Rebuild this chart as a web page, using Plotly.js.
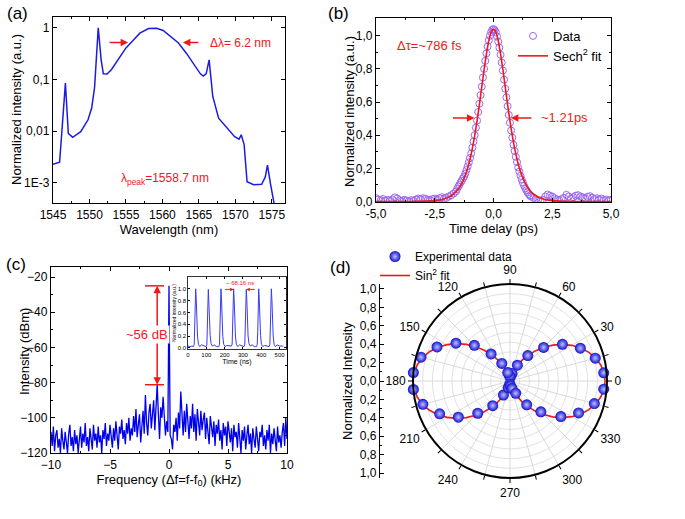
<!DOCTYPE html>
<html><head><meta charset="utf-8">
<script src="https://cdn.plot.ly/plotly-3.0.1.min.js"></script>
<style>html,body{margin:0;padding:0;background:#fff}</style>
</head><body><div id="chart" style="width:685px;height:519px"></div>
<script>
// ---------- (a) spectrum ----------
const waveA = [1545.0,1545.9,1546.1,1546.7,1547.1,1547.7,1548.8,1549.8,1550.3,1550.7,1551.2,1551.6,1551.9,1552.4,1553.0,1553.9,1555.0,1556.0,1556.9,1558.1,1559.2,1560.1,1561.0,1562.2,1563.3,1564.5,1565.2,1565.6,1566.0,1566.4,1566.9,1567.7,1568.8,1569.9,1570.5,1570.8,1571.2,1571.6,1572.5,1573.6,1574.1,1574.4,1574.8,1575.3];
const intensA = [0.0023,0.0025,0.0059,0.085,0.0091,0.0076,0.0098,0.0166,0.028,0.07,1.0,0.24,0.129,0.128,0.155,0.24,0.41,0.575,0.79,0.97,0.98,0.89,0.71,0.51,0.32,0.178,0.129,0.117,0.13,0.24,0.047,0.0178,0.0115,0.0078,0.0070,0.0085,0.0055,0.00105,0.00092,0.00094,0.0013,0.0022,0.00098,0.0004];
const tickValsA = [0.001,0.01,0.1,1];
const tickTextA = ['1E-3','0,01','0,1','1'];

// ---------- (b) autocorrelation ----------
const timeB = [-5.0,-4.9,-4.8,-4.7,-4.6,-4.5,-4.4,-4.3,-4.2,-4.1,-4.0,-3.9,-3.8,-3.7,-3.6,-3.5,-3.4,-3.3,-3.2,-3.1,-3.0,-2.9,-2.8,-2.7,-2.6,-2.5,-2.4,-2.3,-2.2,-2.1,-2.0,-1.9,-1.8,-1.7,
 -1.60,-1.55,-1.50,-1.45,-1.40,-1.35,-1.30,-1.25,-1.20,-1.15,-1.10,-1.05,-1.00,-0.95,-0.90,-0.85,-0.80,-0.75,-0.70,-0.65,-0.60,-0.55,-0.50,-0.45,-0.40,-0.35,-0.30,-0.25,-0.20,-0.15,-0.10,-0.05,0.00,
 0.05,0.10,0.15,0.20,0.25,0.30,0.35,0.40,0.45,0.50,0.55,0.60,0.65,0.70,0.75,0.80,0.85,0.90,0.95,1.00,1.05,1.10,1.15,1.20,1.25,1.30,1.35,1.40,1.45,1.50,1.55,1.60,
 1.7,1.8,1.9,2.0,2.1,2.2,2.3,2.4,2.5,2.6,2.7,2.8,2.9,3.0,3.1,3.2,3.3,3.4,3.5,3.6,3.7,3.8,3.9,4.0,4.1,4.2,4.3,4.4,4.5,4.6,4.7,4.8,4.9,5.0];
const dataB = [0.020,0.012,0.008,0.015,0.005,0.010,0.004,0.012,0.025,0.018,0.008,0.003,0.010,0.006,0.002,0.008,0.004,0.012,0.018,0.014,0.020,0.016,0.010,0.008,0.014,0.018,0.012,0.020,0.026,0.018,0.022,0.030,0.038,0.048,
 0.060,0.075,0.090,0.100,0.115,0.125,0.140,0.150,0.168,0.190,0.212,0.236,0.262,0.290,0.325,0.362,0.400,0.445,0.488,0.540,0.590,0.642,0.693,0.748,0.800,0.848,0.893,0.935,0.972,1.000,1.022,1.036,1.040,
 1.034,1.020,0.995,0.965,0.928,0.885,0.838,0.790,0.735,0.680,0.628,0.575,0.522,0.475,0.428,0.385,0.342,0.305,0.270,0.238,0.205,0.180,0.155,0.133,0.113,0.095,0.080,0.068,0.055,0.045,0.036,0.030,
 0.022,0.015,0.008,0.004,0.010,0.030,0.042,0.035,0.030,0.020,0.012,0.008,0.015,0.022,0.040,0.030,0.018,0.026,0.035,0.038,0.030,0.025,0.020,0.028,0.032,0.022,0.015,0.020,0.012,0.018,0.008,0.012,0.006,0.010];
const fitTB = [-5,-4,-3.5,-3,-2.5,-2.2,-2,-1.8,-1.6,-1.5,-1.4,-1.3,-1.2,-1.1,-1,-0.9,-0.8,-0.7,-0.6,-0.5,-0.4,-0.3,-0.2,-0.1,0,0.1,0.2,0.3,0.4,0.5,0.6,0.7,0.8,0.9,1,1.1,1.2,1.3,1.4,1.5,1.6,1.8,2,2.2,2.5,3,3.5,4,5];
const fitVB = [0,0.0002,0.0004,0.0015,0.0055,0.0122,0.0205,0.0346,0.0582,0.0751,0.0972,0.1248,0.1595,0.2025,0.256,0.321,0.398,0.486,0.585,0.690,0.795,0.891,0.970,1.022,1.040,1.022,0.970,0.891,0.795,0.690,0.585,0.486,0.398,0.321,0.256,0.2025,0.1595,0.1248,0.0972,0.0751,0.0582,0.0346,0.0205,0.0122,0.0055,0.0015,0.0004,0.0002,0];
const tickValsBx = [-5,-2.5,0,2.5,5];
const tickTextBx = ['-5,0','-2,5','0,0','2,5','5,0'];
const tickValsBy = [0,0.2,0.4,0.6,0.8,1.0];
const tickTextBy = ['0,0','0,2','0,4','0,6','0,8','1,0'];

// ---------- (c) RF spectrum ----------
const freqC = [-10.0,-9.9,-9.8,-9.7,-9.6,-9.5,-9.4,-9.3,-9.2,-9.1,-9.0,-8.9,-8.8,-8.7,-8.6,-8.5,-8.4,-8.3,-8.2,-8.1,-8.0,-7.9,-7.8,-7.7,-7.6,-7.5,-7.4,-7.3,-7.2,-7.1,-7.0,-6.9,-6.8,-6.7,-6.6,-6.5,-6.4,-6.3,-6.2,-6.1,-6.0,-5.9,-5.8,-5.7,-5.6,-5.5,-5.4,-5.3,-5.2,-5.1,-5.0,-4.9,-4.8,-4.7,-4.6,-4.5,-4.4,-4.3,-4.2,-4.1,-4.0,-3.9,-3.8,-3.7,-3.6,-3.5,-3.4,-3.3,-3.2,-3.1,-3.0,-2.9,-2.8,-2.7,-2.6,-2.5,-2.4,-2.3,-2.2,-2.1,-2.0,-1.9,-1.8,-1.7,-1.6,-1.5,-1.4,-1.3,-1.2,-1.1,-1.0,-0.9,-0.8,-0.7,-0.6,-0.5,-0.4,-0.3,-0.2,
 -0.1,-0.05,0,0.05,0.1,
 0.2,0.3,0.4,0.5,0.6,0.7,0.8,0.9,1.0,1.1,1.2,1.3,1.4,1.5,1.6,1.7,1.8,1.9,2.0,2.1,2.2,2.3,2.4,2.5,2.6,2.7,2.8,2.9,3.0,3.1,3.2,3.3,3.4,3.5,3.6,3.7,3.8,3.9,4.0,4.1,4.2,4.3,4.4,4.5,4.6,4.7,4.8,4.9,5.0,5.1,5.2,5.3,5.4,5.5,5.6,5.7,5.8,5.9,6.0,6.1,6.2,6.3,6.4,6.5,6.6,6.7,6.8,6.9,7.0,7.1,7.2,7.3,7.4,7.5,7.6,7.7,7.8,7.9,8.0,8.1,8.2,8.3,8.4,8.5,8.6,8.7,8.8,8.9,9.0,9.1,9.2,9.3,9.4,9.5,9.6,9.7,9.8,9.9,10.0];
const powC = [-108,-116,-105,-119,-110,-107,-117,-112,-120,-106,
 -113,-118,-108,-114,-120,-109,-104,-116,-111,-119,
 -107,-115,-110,-120,-113,-105,-117,-109,-114,-103,
 -116,-111,-119,-106,-112,-118,-104,-113,-109,-117,
 -105,-114,-110,-120,-107,-112,-103,-116,-109,-113,
 -104,-111,-117,-106,-113,-102,-110,-118,-105,-109,
 -101,-112,-107,-115,-103,-109,-100,-113,-106,-110,
 -99,-108,-95,-111,-104,-98,-114,-102,-96,-109,
 -87,-103,-110,-97,-92,-106,-99,-90,-107,-95,
 -81,-98,-112,-94,-100,-88,-104,-110,-102,
 -108,-70,-25,-70,-110,
 -112,-118,-104,-108,-100,-113,-97,-106,-85,-103,
 -110,-96,-108,-92,-104,-112,-99,-106,-92,-108,
 -98,-113,-95,-104,-110,-96,-107,-101,-97,-112,
 -100,-108,-115,-99,-105,-111,-102,-116,-104,-109,
 -101,-113,-107,-118,-103,-110,-105,-116,-102,-109,
 -114,-106,-119,-104,-111,-108,-117,-103,-112,-120,
 -107,-113,-105,-118,-110,-104,-115,-109,-120,-106,
 -112,-117,-105,-114,-119,-108,-111,-104,-116,-110,
 -118,-107,-113,-104,-120,-109,-115,-106,-112,-119,
 -105,-114,-110,-117,-108,-103,-116,-100,-112];

// ---------- (c) inset pulse train ----------
const timeIn = [0,12,22,
 30,34,37,40,42,45,48,52,57,64,74,87,
 99,103,106,109,111,114,117,121,126,133,143,156,
 168,172,175,178,180,183,186,190,195,202,212,225,
 237,241,244,247,249,252,255,259,264,271,281,294,
 306,310,313,316,318,321,324,328,333,340,350,363,
 374,378,381,384,386,389,392,396,401,408,418,431,
 443,447,450,453,455,458,461,465,470,477,487,500,520];
const intIn = [0.03,0.02,0.03,
 0.02,0.06,0.30,0.80,1.00,0.82,0.50,0.20,0.06,0.02,0.05,0.03,
 0.02,0.05,0.28,0.78,0.99,0.83,0.52,0.21,0.07,0.03,0.05,0.02,
 0.02,0.06,0.31,0.80,1.00,0.81,0.50,0.19,0.06,0.02,0.04,0.03,
 0.03,0.06,0.30,0.79,1.00,0.82,0.51,0.20,0.06,0.02,0.05,0.03,
 0.02,0.05,0.29,0.80,0.99,0.82,0.50,0.20,0.07,0.03,0.05,0.02,
 0.02,0.06,0.30,0.81,1.00,0.83,0.51,0.21,0.06,0.02,0.04,0.03,
 0.02,0.06,0.30,0.80,1.00,0.82,0.50,0.20,0.06,0.02,0.05,0.03,0.03];

// ---------- (d) polarization ----------
const thetaD = [5,15,25,35,45,55,65,75,85,95,105,115,125,135,145,155,165,175,185,195,205,215,225,235,245,255,265,275,285,295,305,315,325,335,345,355];
const rD = [0.97,0.91,0.80,0.66,0.49,0.32,0.18,0.08,0.04, 0.05,0.09,0.20,0.34,0.52,0.68,0.83,0.95,1.00, 1.00,0.93,0.80,0.65,0.47,0.31,0.16,0.07,0.03, 0.05,0.08,0.14,0.30,0.45,0.64,0.78,0.90,0.97];
const thetaFit = [0,5,10,15,20,25,30,35,40,45,50,55,60,65,70,75,80,85,90,95,100,105,110,115,120,125,130,135,140,145,150,155,160,165,170,175,180,185,190,195,200,205,210,215,220,225,230,235,240,245,250,255,260,265,270,275,280,285,290,295,300,305,310,315,320,325,330,335,340,345,350,355,360];
const rFit = [0.980,0.973,0.950,0.914,0.865,0.805,0.735,0.658,0.575,0.490,0.405,0.322,0.245,0.175,0.115,0.066,0.030,0.007,0.000,
 0.008,0.030,0.067,0.117,0.179,0.250,0.329,0.413,0.500,0.587,0.671,0.750,0.821,0.883,0.933,0.970,0.992,1.000,
 0.992,0.970,0.933,0.883,0.821,0.750,0.671,0.587,0.500,0.413,0.329,0.250,0.179,0.117,0.067,0.030,0.008,0.000,
 0.007,0.030,0.066,0.115,0.175,0.245,0.322,0.405,0.490,0.575,0.658,0.735,0.805,0.865,0.914,0.950,0.973,0.980];
const angTickVals = [0,15,30,45,60,75,90,105,120,135,150,165,180,195,210,225,240,255,270,285,300,315,330,345];
const angTickText = ['0',' ','30',' ','60',' ','90',' ','120',' ','150',' ','180',' ','210',' ','240',' ','270',' ','300',' ','330',' '];
const tickValsD = [-1,-0.8,-0.6,-0.4,-0.2,0,0.2,0.4,0.6,0.8,1];
const tickTextD = ['1,0','0,8','0,6','0,4','0,2','0,0','0,2','0,4','0,6','0,8','1,0'];

// ---------- layout helpers ----------
const W = 685, H = 519;
const px = v => v / W;
const py = v => 1 - v / H;
const RED = '#f01818';
const FONT = 'Liberation Sans, Arial, Helvetica, sans-serif';

const base = {showline:true, linecolor:'#000', linewidth:1.2, mirror:'ticks', ticks:'inside', ticklen:4, tickwidth:1, tickcolor:'#000', showgrid:false, zeroline:false, tickfont:{size:12, color:'#000'}};
function ax(extra){ return Object.assign({}, base, extra); }

const traces = [
  {type:'scatter', mode:'lines', x:waveA, y:intensA, xaxis:'x', yaxis:'y', line:{color:'#1c1ce0', width:1.5}, showlegend:false},
  {type:'scatter', mode:'markers', x:timeB, y:dataB, xaxis:'x2', yaxis:'y2', name:'Data',
    marker:{symbol:'circle-open', size:7, color:'#9a66f0', line:{width:1}}, legend:'legend'},
  {type:'scatter', mode:'lines', x:fitTB, y:fitVB, xaxis:'x2', yaxis:'y2', name:'Sech<sup>2</sup> fit',
    line:{color:RED, width:1.6, shape:'spline'}, legend:'legend'},
  {type:'scatter', mode:'lines', x:freqC, y:powC, xaxis:'x3', yaxis:'y3', line:{color:'#0000f0', width:1.3}, showlegend:false},
  {type:'scatter', mode:'lines', x:timeIn, y:intIn, xaxis:'x4', yaxis:'y4', line:{color:'#3a3af5', width:1}, showlegend:false},
  {type:'scatter', mode:'markers', x:[0], y:[0], xaxis:'x5', yaxis:'y5', marker:{opacity:0}, showlegend:false, hoverinfo:'skip'},
  {type:'scatterpolar', mode:'lines', theta:thetaFit, r:rFit, subplot:'polar', name:'Sin<sup>2</sup> fit',
    line:{color:RED, width:1.6}, legend:'legend2', legendrank:2},
  {type:'scatterpolar', mode:'markers', theta:thetaD, r:rD, subplot:'polar', name:'Experimental data',
    marker:{size:11, color:'#1010d0', gradient:{type:'radial', color:'#c0c0ff'}, line:{width:0}}, legend:'legend2', legendrank:1}
];

function arrow(xref, yref, x, y, axp, ayp, opts){
  return Object.assign({xref, yref, x, y, ax:axp, ay:ayp, text:'', showarrow:true, arrowhead:2, arrowsize:1, arrowwidth:1.5, arrowcolor:RED, standoff:0}, opts||{});
}
function ytitle(x, y, text){
  return {xref:'paper', yref:'paper', x:px(x), y:py(y), text, textangle:-90, showarrow:false, xanchor:'center', yanchor:'middle', font:{size:13}};
}

const annotations = [
  // panel labels
  {xref:'paper', yref:'paper', x:px(5), y:py(2), xanchor:'left', yanchor:'top', text:'(a)', showarrow:false, font:{size:17}},
  {xref:'paper', yref:'paper', x:px(326), y:py(2), xanchor:'left', yanchor:'top', text:'(b)', showarrow:false, font:{size:17}},
  {xref:'paper', yref:'paper', x:px(4), y:py(253), xanchor:'left', yanchor:'top', text:'(c)', showarrow:false, font:{size:17}},
  {xref:'paper', yref:'paper', x:px(328), y:py(256), xanchor:'left', yanchor:'top', text:'(d)', showarrow:false, font:{size:17}},
  // y-axis titles
  ytitle(17, 110, 'Normalized intensity (a.u.)'),
  ytitle(350, 112, 'Normalized intensity (a.u.)'),
  ytitle(24, 352, 'Intensity (dBm)'),
  // (a)
  arrow('x','y',1555.3,Math.log10(0.52),-20,0),
  arrow('x','y',1562.8,Math.log10(0.52),17,0),
  {xref:'x', yref:'y', x:1566.2, y:Math.log10(0.52), xanchor:'left', text:'\u0394\u03bb= 6.2 nm', showarrow:false, font:{size:12, color:RED}},
  {xref:'x', yref:'y', x:1560.3, y:Math.log10(0.00118), xanchor:'center', text:'\u03bb<sub>peak</sub>=1558.7 nm', showarrow:false, font:{size:12, color:RED}},
  // (b)
  {xref:'x2', yref:'y2', x:-4.19, y:0.944, xanchor:'left', text:'\u0394\u03c4=~786 fs', showarrow:false, font:{size:13, color:RED}},
  arrow('x2','y2',-0.81,0.504,-23,0),
  arrow('x2','y2',0.74,0.504,22,0),
  {xref:'x2', yref:'y2', x:1.95, y:0.504, xanchor:'left', text:'~1.21ps', showarrow:false, font:{size:13, color:RED}},
  // (c)
  arrow('x3','y3',-1.0,-25,-1.0,-53,{axref:'x3', ayref:'y3'}),
  arrow('x3','y3',-1.0,-81.2,-1.0,-53,{axref:'x3', ayref:'y3'}),
  {xref:'x3', yref:'y3', x:-1.86, y:-52.5, text:'~56 dB', showarrow:false, bgcolor:'#fff', font:{size:13, color:RED}},
  // inset
  {xref:'x4', yref:'y4', x:283, y:1.09, text:'~ 68.16 ns', showarrow:false, font:{size:6, color:RED}},
  arrow('x4','y4',249,0.99,-10,0,{arrowwidth:1, arrowsize:0.7}),
  arrow('x4','y4',318,0.99,10,0,{arrowwidth:1, arrowsize:0.7})
];

const shapes = [
  {type:'line', xref:'x3', yref:'y3', x0:-2.03, x1:-0.42, y0:-25, y1:-25, line:{color:RED, width:1.5}},
  {type:'line', xref:'x3', yref:'y3', x0:-2.03, x1:-0.42, y0:-81.2, y1:-81.2, line:{color:RED, width:1.5}}
];

const layout = {
  width:W, height:H, margin:{l:0,r:0,t:0,b:0}, paper_bgcolor:'#fff', plot_bgcolor:'#fff',
  font:{family:FONT, size:12, color:'#000'},
  showlegend:true,
  xaxis: ax({domain:[px(53),px(285)], anchor:'y', range:[1545,1576.8], tick0:1545, dtick:5,
    minor:{dtick:2.5, ticks:'inside', ticklen:2, tickcolor:'#000'},
    title:{text:'Wavelength (nm)', font:{size:13}, standoff:0}}),
  yaxis: ax({domain:[py(203),py(17)], anchor:'x', type:'log', range:[-3.39,0.21], tickmode:'array', tickvals:tickValsA, ticktext:tickTextA}),
  xaxis2: ax({domain:[px(376),px(611)], anchor:'y2', range:[-5,5], tickmode:'array', tickvals:tickValsBx, ticktext:tickTextBx,
    minor:{tickvals:[-3.75,-1.25,1.25,3.75], ticks:'inside', ticklen:2, tickcolor:'#000'},
    title:{text:'Time delay (ps)', font:{size:13}, standoff:0}}),
  yaxis2: ax({domain:[py(202),py(18)], anchor:'x2', range:[-0.003,1.107], tickmode:'array', tickvals:tickValsBy, ticktext:tickTextBy,
    minor:{tickvals:[0.1,0.3,0.5,0.7,0.9], ticks:'inside', ticklen:2, tickcolor:'#000'}}),
  xaxis3: ax({domain:[px(51),px(287)], anchor:'y3', range:[-10,10], tick0:-10, dtick:5,
    minor:{dtick:2.5, ticks:'inside', ticklen:2, tickcolor:'#000'},
    title:{text:'Frequency (\u0394f=f-f<sub>0</sub>) (kHz)', font:{size:13}, standoff:2}}),
  yaxis3: ax({domain:[py(453),py(267)], anchor:'x3', range:[-120,-14.3], tick0:-120, dtick:20,
    minor:{dtick:10, ticks:'inside', ticklen:2, tickcolor:'#000'}}),
  xaxis4: ax({domain:[px(188),px(286)], anchor:'y4', range:[0,535], tick0:0, dtick:100, linewidth:0.8, ticklen:2,
    tickfont:{size:6}, title:{text:'Time (ns)', font:{size:7}, standoff:0}}),
  yaxis4: ax({domain:[py(349),py(277)], anchor:'x4', range:[-0.02,1.2], tickmode:'array', tickvals:[0,0.2,0.4,0.6,0.8,1.0], ticktext:['0.0','0.2','0.4','0.6','0.8','1.0'],
    linewidth:0.8, ticklen:2, tickfont:{size:6}, title:{text:'Normalized intensity (a.u.)', font:{size:5}, standoff:0}}),
  xaxis5: {domain:[px(380),px(381)], anchor:'y5', visible:false, range:[0,1]},
  yaxis5: ax({domain:[py(478),py(284)], anchor:'x5', mirror:false, range:[-1.054,1.054], tickmode:'array', tickvals:tickValsD, ticktext:tickTextD,
    minor:{tickvals:[-0.9,-0.7,-0.5,-0.3,-0.1,0.1,0.3,0.5,0.7,0.9], ticks:'inside', ticklen:2, tickcolor:'#000'},
    title:{text:'Normalized Intensity', font:{size:13}, standoff:4}}),
  polar: {
    domain:{x:[px(413),px(607)], y:[py(478),py(284)]},
    bgcolor:'#fff',
    angularaxis:{rotation:0, direction:'counterclockwise', tickmode:'array', tickvals:angTickVals, ticktext:angTickText,
      ticks:'outside', ticklen:4, tickcolor:'#000', linecolor:'#000', linewidth:2, showline:true,
      gridcolor:'#c8c8c8', gridwidth:0.7, tickfont:{size:12, color:'#000'}},
    radialaxis:{range:[0,1], tickmode:'linear', tick0:0, dtick:0.1, showticklabels:false, ticks:'', showline:false,
      gridcolor:'#d4d4d4', gridwidth:0.7}
  },
  legend:{x:px(513), y:py(21), xanchor:'left', yanchor:'top', bgcolor:'rgba(0,0,0,0)', font:{size:13}, tracegroupgap:0},
  legend2:{x:px(375), y:py(242), xanchor:'left', yanchor:'top', bgcolor:'rgba(0,0,0,0)', font:{size:12}, tracegroupgap:0},
  annotations, shapes
};

Plotly.newPlot('chart', traces, layout, {staticPlot:true, displayModeBar:false});
</script></body></html>
